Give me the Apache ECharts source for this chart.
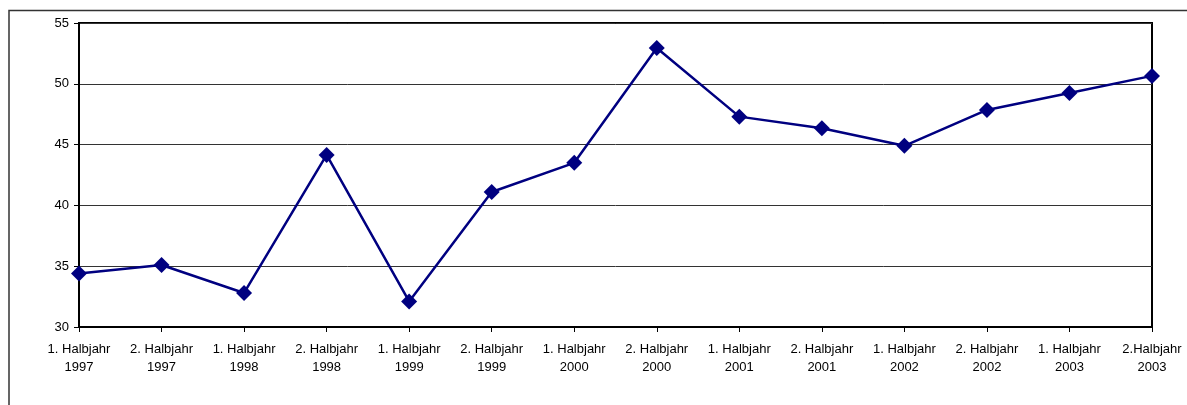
<!DOCTYPE html>
<html>
<head>
<meta charset="utf-8">
<script src="https://cdn.jsdelivr.net/npm/echarts@6/dist/echarts.min.js"></script>
<style>
  html, body { margin: 0; padding: 0; background: #fff; }
  #chart { width: 1187px; height: 405px; }
</style>
</head>
<body>
<div id="chart"></div>
<script>
const categories = [
  '1. Halbjahr\n1997', '2. Halbjahr\n1997', '1. Halbjahr\n1998', '2. Halbjahr\n1998',
  '1. Halbjahr\n1999', '2. Halbjahr\n1999', '1. Halbjahr\n2000', '2. Halbjahr\n2000',
  '1. Halbjahr\n2001', '2. Halbjahr\n2001', '1. Halbjahr\n2002', '2. Halbjahr\n2002',
  '1. Halbjahr\n2003', '2.Halbjahr\n2003'
]
const values = [34.4, 35.1, 32.8, 44.15, 32.1, 41.1, 43.5, 52.95, 47.3, 46.35, 44.9, 47.85, 49.25, 50.65]

const chart = echarts.init(document.getElementById('chart'), null, { renderer: 'canvas' })
const font = 'Liberation Sans, Arial, sans-serif'

chart.setOption({
  animation: false,
  graphic: [
    {
      type: 'rect',
      shape: { x: 9, y: 10.5, width: 1200, height: 420 },
      style: { fill: 'none', stroke: '#333', lineWidth: 1.5 },
      silent: true
    }
  ],
  grid: {
    left: 79, right: 35, top: 23, bottom: 78,
    show: true, borderColor: '#000', borderWidth: 2
  },
  xAxis: {
    type: 'category',
    data: categories,
    boundaryGap: false,
    axisLine: { lineStyle: { color: '#000', width: 2 } },
    axisTick: { show: true, length: 5, lineStyle: { color: '#000' } },
    axisLabel: {
      color: '#000', fontFamily: font, fontSize: 13, lineHeight: 18,
      margin: 13, interval: 0
    },
    splitLine: { show: false }
  },
  yAxis: {
    type: 'value',
    min: 30, max: 55, interval: 5,
    axisLine: { show: true, lineStyle: { color: '#000', width: 2 } },
    axisTick: { show: true, length: 5, lineStyle: { color: '#000' } },
    axisLabel: { color: '#000', fontFamily: font, fontSize: 13, margin: 10 },
    splitLine: { show: true, lineStyle: { color: '#333', width: 1 } }
  },
  series: [
    {
      type: 'line',
      data: values,
      symbol: 'diamond',
      symbolSize: 16,
      lineStyle: { color: '#000080', width: 2.5 },
      itemStyle: { color: '#000080' }
    }
  ]
})
</script>
</body>
</html>
